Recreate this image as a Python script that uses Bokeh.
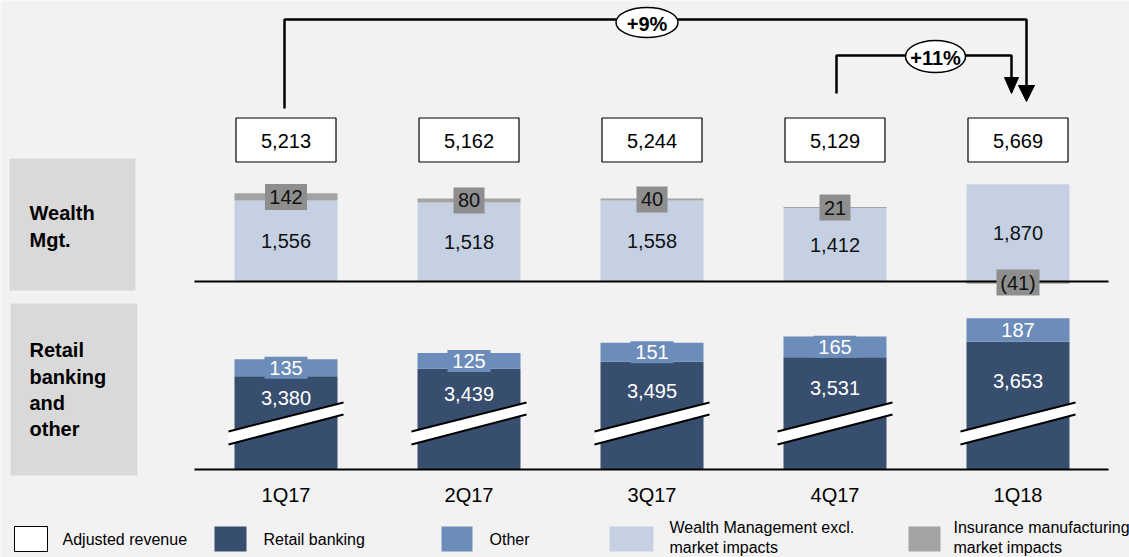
from bokeh.plotting import figure
from bokeh.models import Range1d
from bokeh.embed import file_html
from bokeh.resources import INLINE
from bokeh.core.properties import value

# ---------------- data ----------------
quarters = ["1Q17", "2Q17", "3Q17", "4Q17", "1Q18"]
adjusted_revenue = [5213, 5162, 5244, 5129, 5669]
wealth_mgmt = [1556, 1518, 1558, 1412, 1870]
insurance_impacts = [142, 80, 40, 21, -41]
retail_banking = [3380, 3439, 3495, 3531, 3653]
other = [135, 125, 151, 165, 187]
growth_labels = ["+9%", "+11%"]
legend_labels = ["Adjusted revenue", "Retail banking", "Other",
                 "Wealth Management excl.\nmarket impacts",
                 "Insurance manufacturing\nmarket impacts"]

# ---------------- styles ----------------
BG = "#f2f2f2"
PANEL = "#d9d9d9"
C_WM = "#c5d0e3"
C_INS = "#a3a3a3"
C_INS_LBL = "#8e8e8e"
C_RB = "#374e6e"
C_OTH = "#6c8cba"
FONT = value("Liberation Sans")

W, H = 1129, 557


def fmt(v):
    return f"({abs(v):,})" if v < 0 else f"{v:,}"


# page-pixel base ranges (x: 0..W, y inverted 0..H)
p = figure(width=W, height=H, x_range=Range1d(0, W), y_range=Range1d(H, 0),
           output_backend="svg", toolbar_location=None, min_border=0,
           x_axis_location=None, y_axis_location=None,
           background_fill_color=BG, border_fill_color=BG, outline_line_color=None)
p.grid.visible = False

STEP = 183.0
C0 = 285.5
p.extra_x_ranges = {"q": Range1d((0 - C0) / STEP, (W - C0) / STEP)}
WM_BASE, WM_SCALE = 281.0, 0.052
RB_BASE, RB_SCALE, RB_FLOOR = 469.0, 0.126, 2640
p.extra_y_ranges = {
    "wm": Range1d(-(H - WM_BASE) / WM_SCALE, WM_BASE / WM_SCALE),
    "rb": Range1d(RB_FLOOR - (H - RB_BASE) / RB_SCALE, RB_FLOOR + RB_BASE / RB_SCALE),
}

xs = list(range(len(quarters)))
BW = 103 / STEP

# ---------------- left panels ----------------
p.quad(left=[9, 10], right=[135, 137], top=[158, 303], bottom=[290, 475],
       fill_color=PANEL, line_color=None)
p.text(x=[29, 29], y=[212, 239], text=["Wealth", "Mgt."], text_font=FONT,
       text_font_style="bold", text_font_size="20px", text_baseline="middle",
       text_color="black")
p.text(x=[29] * 4, y=[349, 376, 402, 428], text=["Retail", "banking", "and", "other"],
       text_font=FONT, text_font_style="bold", text_font_size="20px",
       text_baseline="middle", text_color="black")

# ---------------- wealth management ----------------
p.vbar(x=xs, bottom=0, top=wealth_mgmt, width=BW, x_range_name="q", y_range_name="wm",
       fill_color=C_WM, line_color=None)
ins_bottom = [w if i > 0 else 0 for w, i in zip(wealth_mgmt, insurance_impacts)]
ins_top = [b + i for b, i in zip(ins_bottom, insurance_impacts)]
p.vbar(x=xs, bottom=ins_bottom, top=ins_top, width=BW, x_range_name="q", y_range_name="wm",
       fill_color=C_INS, line_color=None)
p.segment(x0=[194], x1=[1108], y0=[0], y1=[0], y_range_name="wm",
          line_color="black", line_width=2)
p.text(x=xs, y=[w / 2 for w in wealth_mgmt], text=[fmt(w) for w in wealth_mgmt],
       x_range_name="q", y_range_name="wm", text_font=FONT, text_font_size="20px",
       text_align="center", text_baseline="middle", text_color="#111111")
ins_mid = [b + i / 2 for b, i in zip(ins_bottom, insurance_impacts)]
ins_txt = [fmt(i) for i in insurance_impacts]


def lbl_w(s):
    return sum(6 if c in "()," else 11 for c in s) + 9


p.rect(x=xs, y=ins_mid, width=[lbl_w(s) for s in ins_txt], height=26,
       width_units="screen", height_units="screen", x_range_name="q", y_range_name="wm",
       fill_color=C_INS_LBL, line_color=None)
p.text(x=xs, y=ins_mid, text=ins_txt, x_range_name="q", y_range_name="wm",
       text_font=FONT, text_font_size="20px", text_align="center",
       text_baseline="middle", text_color="#111111")

# ---------------- retail banking & other ----------------
rb_top = [r + o for r, o in zip(retail_banking, other)]
p.vbar(x=xs, bottom=RB_FLOOR, top=retail_banking, width=BW, x_range_name="q",
       y_range_name="rb", fill_color=C_RB, line_color=None)
p.vbar(x=xs, bottom=retail_banking, top=rb_top, width=BW, x_range_name="q",
       y_range_name="rb", fill_color=C_OTH, line_color=None)
oth_mid = [r + o / 2 for r, o in zip(retail_banking, other)]
p.rect(x=xs, y=oth_mid, width=43, height=22, width_units="screen", height_units="screen",
       x_range_name="q", y_range_name="rb", fill_color=C_OTH, line_color=None)
p.text(x=xs, y=oth_mid, text=[fmt(o) for o in other], x_range_name="q", y_range_name="rb",
       text_font=FONT, text_font_size="20px", text_align="center",
       text_baseline="middle", text_color="white")
p.text(x=xs, y=[(r + 3035) / 2 for r in retail_banking], text=[fmt(r) for r in retail_banking],
       x_range_name="q", y_range_name="rb", text_font=FONT, text_font_size="20px",
       text_align="center", text_baseline="middle", text_color="white")

# axis-break bands
dxl, dxr = -57.5 / STEP, 57.5 / STEP
band_xs = [[i + dxl, i + dxr, i + dxr, i + dxl] for i in xs]
band_ys = [[431, 402, 414, 444] for _ in xs]
p.patches(xs=band_xs, ys=band_ys, x_range_name="q", fill_color="white", line_color=None)
p.segment(x0=[i + dxl for i in xs] * 2, x1=[i + dxr for i in xs] * 2,
          y0=[431] * 5 + [444] * 5, y1=[402] * 5 + [414] * 5, x_range_name="q",
          line_color="black", line_width=2)

p.segment(x0=[194], x1=[1108], y0=[RB_FLOOR], y1=[RB_FLOOR], y_range_name="rb",
          line_color="black", line_width=2)

# category labels
p.text(x=xs, y=[494] * 5, text=quarters, x_range_name="q", text_font=FONT,
       text_font_size="20px", text_align="center", text_baseline="middle",
       text_color="black")

# ---------------- adjusted revenue boxes ----------------
p.rect(x=xs, y=[139.5] * 5, width=100, height=44, width_units="screen",
       height_units="screen", x_range_name="q", fill_color="white",
       line_color="black", line_width=1.2)
p.text(x=xs, y=[140] * 5, text=[fmt(v) for v in adjusted_revenue], x_range_name="q",
       text_font=FONT, text_font_size="20px", text_align="center",
       text_baseline="middle", text_color="black")


# ---------------- growth arrows ----------------
def px(i, d=0.0):
    return C0 + STEP * i + d


p.line(x=[px(0, -1.5), px(0, -1.5), px(4, 8.5), px(4, 8.5)], y=[108, 19, 19, 86],
       line_color="black", line_width=2.5)
p.line(x=[px(3, 1.5), px(3, 1.5), px(4, -6.5), px(4, -6.5)], y=[93, 55, 55, 78],
       line_color="black", line_width=2.5)
p.patches(xs=[[px(4, 0.5), px(4, 16.5), px(4, 8.5)], [px(4, -13.5), px(4, 0.5), px(4, -6.5)]],
          ys=[[85, 85, 101], [77, 77, 93]], fill_color="black", line_color="black")
p.ellipse(x=[646.5, 935], y=[22, 56], width=[62, 60], height=[30, 32],
          width_units="screen", height_units="screen", fill_color="white",
          line_color="black", line_width=1.5)
p.text(x=[646.5, 935], y=[23, 57], text=growth_labels, text_font=FONT,
       text_font_style="bold", text_font_size="20px", text_align="center",
       text_baseline="middle", text_color="black")

# ---------------- legend ----------------
sw_left = [14, 214, 441, 609, 908]
sw_right = [47, 246, 472, 653, 940]
sw_col = ["white", C_RB, C_OTH, C_WM, C_INS]
sw_line = ["black", None, None, None, None]
for l, r, c, lc in zip(sw_left, sw_right, sw_col, sw_line):
    p.quad(left=[l], right=[r], top=[526], bottom=[551], fill_color=c,
           line_color=lc, line_width=1)
txt_x = [62, 263, 489, 669, 953]
for tx, lab in zip(txt_x, legend_labels):
    lines = lab.split("\n")
    ys = [539] if len(lines) == 1 else [527, 547]
    p.text(x=[tx] * len(lines), y=ys, text=lines, text_font=FONT, text_font_size="16px",
           text_baseline="middle", text_color="black")

html = file_html(p, INLINE)
html = html.replace("<body>", '<body style="background-color:#f2f2f2;">', 1)
open("out.html", "w").write(html)
